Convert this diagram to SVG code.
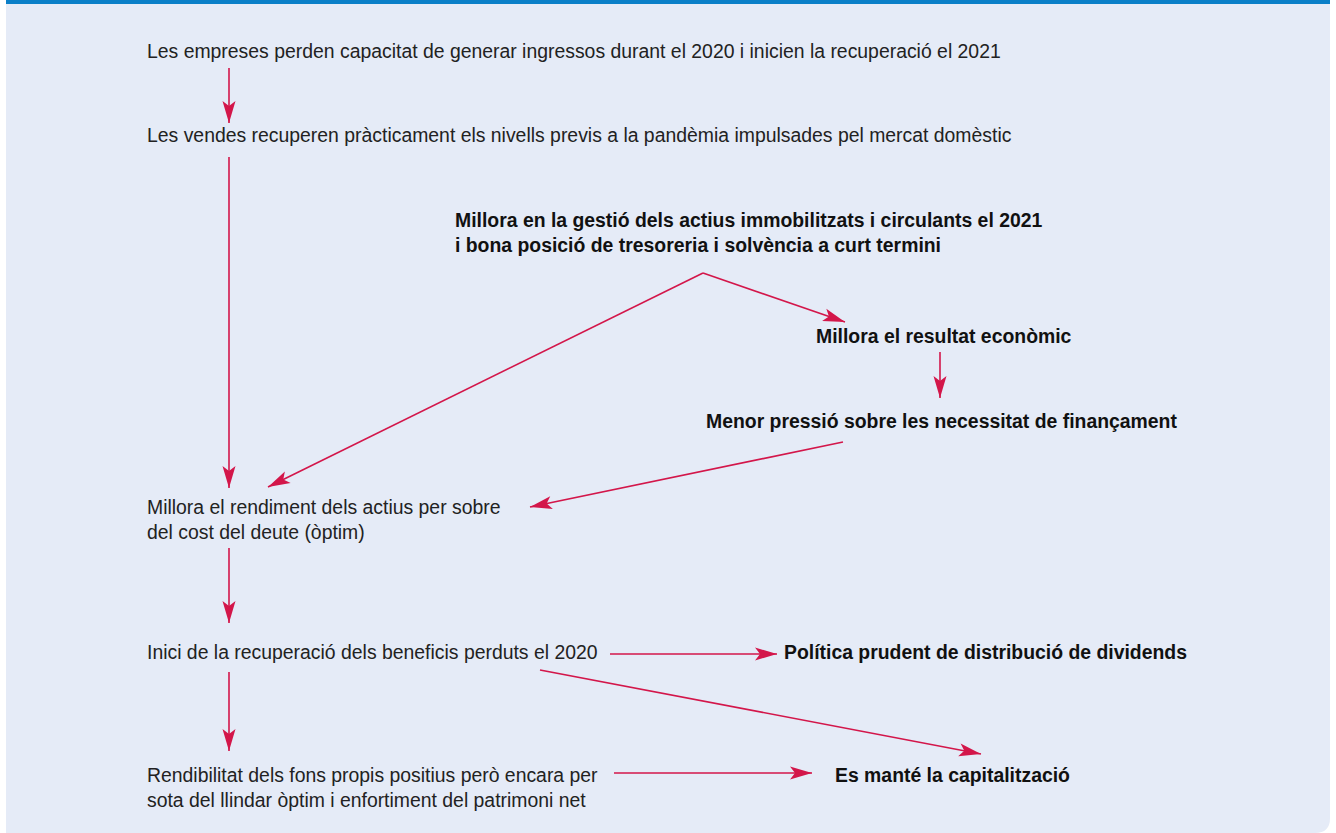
<svg xmlns="http://www.w3.org/2000/svg" width="1336" height="833" viewBox="0 0 1336 833">
<defs>
<marker id="ah" markerUnits="userSpaceOnUse" markerWidth="30" markerHeight="20" viewBox="-24 -10 26 20" refX="0" refY="0" orient="auto">
<path d="M0,0 L-22,-6.5 L-17,0 L-22,6.5 Z" fill="#D3164A"/>
</marker>
<style>
.t{font-family:"Liberation Sans",Arial,sans-serif;font-size:19.4px;fill:#222}
.b{font-family:"Liberation Sans",Arial,sans-serif;font-size:19.4px;font-weight:bold;fill:#111}
.ca{stroke:#D3164A;stroke-width:1.6;fill:none;marker-end:url(#ah)}
</style>
</defs>
<rect x="0" y="0" width="1336" height="833" fill="#ffffff"/>
<path d="M6,0 H1330 V818 Q1330,833 1315,833 H6 Z" fill="#E5EBF7"/>
<rect x="6" y="0" width="1324" height="4" fill="#0A7FC8"/>
<g id="connectors">
<line class="ca" x1="229" y1="68" x2="229" y2="123"/>
<line class="ca" x1="229" y1="157" x2="229" y2="488"/>
<line class="ca" x1="703" y1="273" x2="845" y2="322"/>
<line class="ca" x1="703" y1="273" x2="268" y2="487"/>
<line class="ca" x1="940" y1="352" x2="940" y2="398"/>
<line class="ca" x1="843" y1="442" x2="530" y2="507"/>
<line class="ca" x1="229" y1="548" x2="229" y2="623"/>
<line class="ca" x1="610" y1="654" x2="777" y2="654"/>
<line class="ca" x1="540" y1="670" x2="981" y2="754"/>
<line class="ca" x1="229" y1="672" x2="229" y2="751"/>
<line class="ca" x1="614" y1="773" x2="812" y2="773"/>
</g>
<g id="n1"><text class="t" x="147" y="58">Les empreses perden capacitat de generar ingressos durant el 2020 i inicien la recuperació el 2021</text></g>
<g id="n2"><text class="t" x="147" y="142">Les vendes recuperen pràcticament els nivells previs a la pandèmia impulsades pel mercat domèstic</text></g>
<g id="n3"><text class="b" x="455" y="227">Millora en la gestió dels actius immobilitzats i circulants el 2021</text><text class="b" x="455" y="252">i bona posició de tresoreria i solvència a curt termini</text></g>
<g id="n4"><text class="b" x="816" y="343">Millora el resultat econòmic</text></g>
<g id="n5"><text class="b" x="706" y="428">Menor pressió sobre les necessitat de finançament</text></g>
<g id="n6"><text class="t" x="147" y="514">Millora el rendiment dels actius per sobre</text><text class="t" x="147" y="539">del cost del deute (òptim)</text></g>
<g id="n7"><text class="t" x="147" y="659">Inici de la recuperació dels beneficis perduts el 2020</text></g>
<g id="n8"><text class="b" x="784" y="659">Política prudent de distribució de dividends</text></g>
<g id="n9"><text class="t" x="147" y="782">Rendibilitat dels fons propis positius però encara per</text><text class="t" x="147" y="807">sota del llindar òptim i enfortiment del patrimoni net</text></g>
<g id="n10"><text class="b" x="835" y="782">Es manté la capitalització</text></g>
</svg>
